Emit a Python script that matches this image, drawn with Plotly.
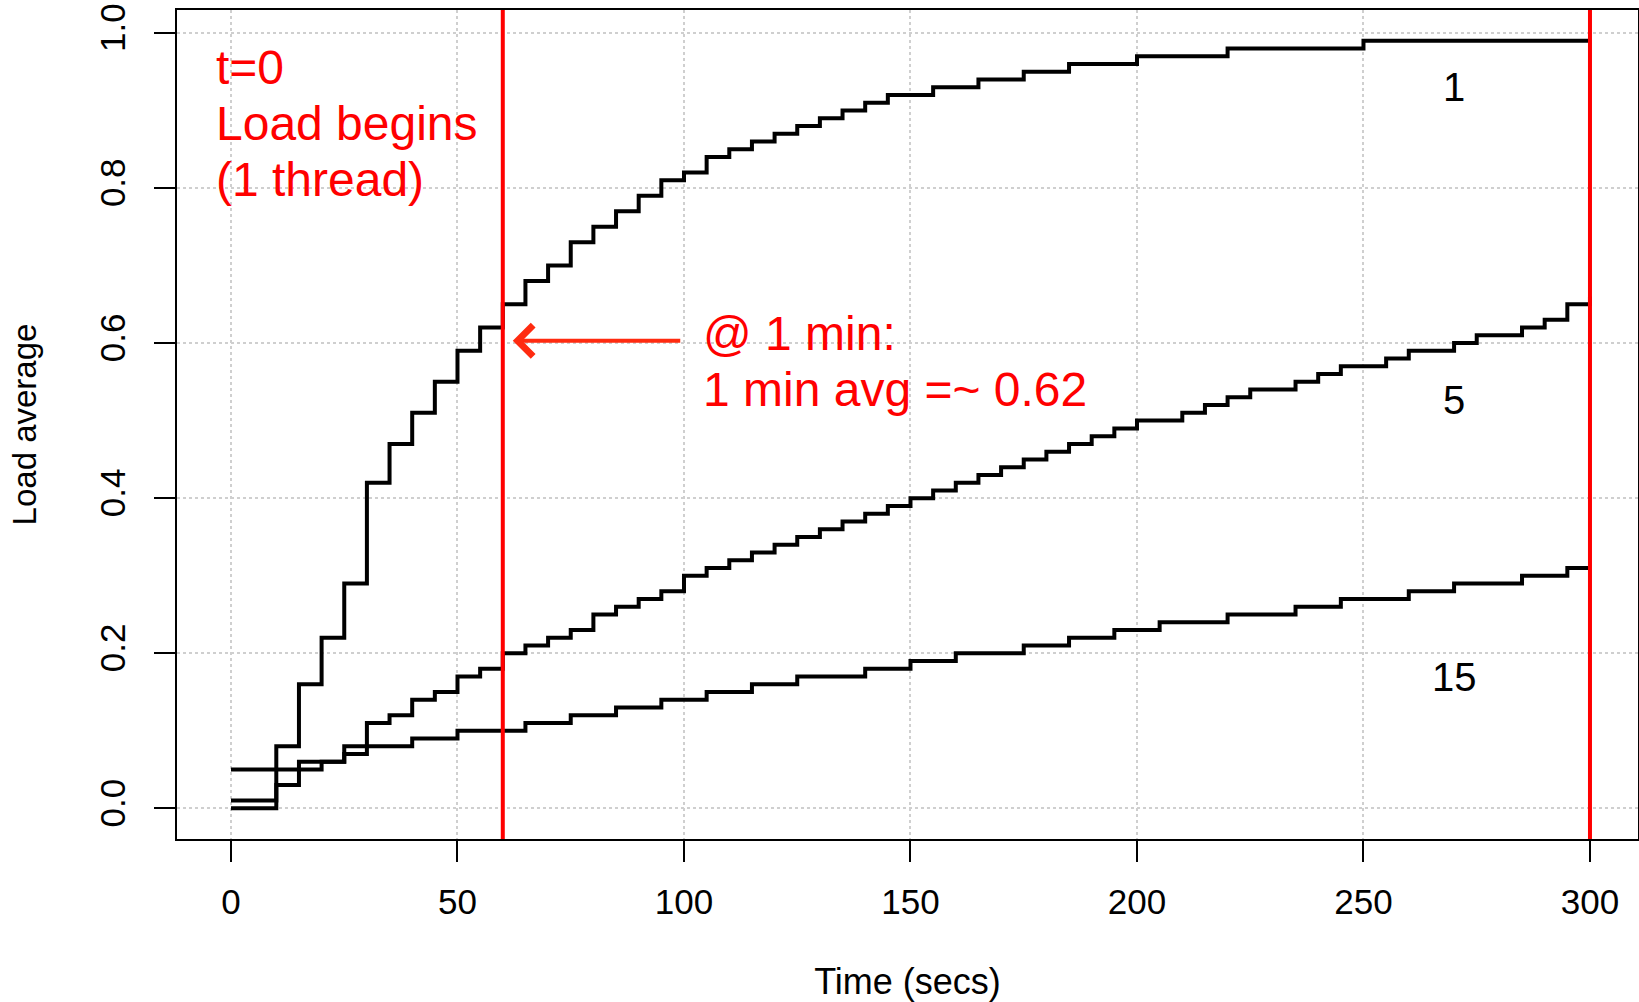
import plotly.graph_objects as go

# ---------------- data ----------------
time_s = list(range(0, 301, 5))

load_1 = [0.00, 0.00, 0.08, 0.16, 0.22, 0.29, 0.42, 0.47, 0.51, 0.55,
          0.59, 0.62, 0.65, 0.68, 0.70, 0.73, 0.75, 0.77, 0.79, 0.81,
          0.82, 0.84, 0.85, 0.86, 0.87, 0.88, 0.89, 0.90, 0.91, 0.92,
          0.92, 0.93, 0.93, 0.94, 0.94, 0.95, 0.95, 0.96, 0.96, 0.96,
          0.97, 0.97, 0.97, 0.97, 0.98, 0.98, 0.98, 0.98, 0.98, 0.98,
          0.99, 0.99, 0.99, 0.99, 0.99, 0.99, 0.99, 0.99, 0.99, 0.99, 0.99]

load_5 = [0.01, 0.01, 0.03, 0.06, 0.06, 0.08, 0.11, 0.12, 0.14, 0.15,
          0.17, 0.18, 0.20, 0.21, 0.22, 0.23, 0.25, 0.26, 0.27, 0.28,
          0.30, 0.31, 0.32, 0.33, 0.34, 0.35, 0.36, 0.37, 0.38, 0.39,
          0.40, 0.41, 0.42, 0.43, 0.44, 0.45, 0.46, 0.47, 0.48, 0.49,
          0.50, 0.50, 0.51, 0.52, 0.53, 0.54, 0.54, 0.55, 0.56, 0.57,
          0.57, 0.58, 0.59, 0.59, 0.60, 0.61, 0.61, 0.62, 0.63, 0.65, 0.66]

load_15 = [0.05, 0.05, 0.05, 0.05, 0.06, 0.07, 0.08, 0.08, 0.09, 0.09,
           0.10, 0.10, 0.10, 0.11, 0.11, 0.12, 0.12, 0.13, 0.13, 0.14,
           0.14, 0.15, 0.15, 0.16, 0.16, 0.17, 0.17, 0.17, 0.18, 0.18,
           0.19, 0.19, 0.20, 0.20, 0.20, 0.21, 0.21, 0.22, 0.22, 0.23,
           0.23, 0.24, 0.24, 0.24, 0.25, 0.25, 0.25, 0.26, 0.26, 0.27,
           0.27, 0.27, 0.28, 0.28, 0.29, 0.29, 0.29, 0.30, 0.30, 0.31, 0.31]

series_names = ["1", "5", "15"]
label_x = [270, 270, 270]
label_y = [0.93, 0.526, 0.169]

x_ticks = [0, 50, 100, 150, 200, 250, 300]
y_ticks = [0.0, 0.2, 0.4, 0.6, 0.8, 1.0]
marker_times = [60, 300]          # red vertical lines
arrow_tip = (62.2, 0.603)         # "@ 1 min" arrow target

# ---------------- layout constants ----------------
OFF = 0                       # body margin removed by post_script
W, H = 1639, 1002
ML, MR, MT, MB = 176.7, 1, 9.5, 162.6
FONT = "Liberation Sans, Arial, Helvetica, sans-serif"
RED = "#ff0000"


def px_x(px):   # page pixel -> paper fraction
    return (px - OFF - ML) / (W - ML - MR)


def px_y(py):
    return (H - MB - (py - OFF)) / (H - MT - MB)


fig = go.Figure()
for vals in (load_1, load_5, load_15):
    fig.add_trace(go.Scatter(
        x=time_s, y=vals, mode="lines", line_shape="hv",
        line=dict(color="black", width=4), showlegend=False,
        hoverinfo="x+y"))

for t in marker_times:
    fig.add_shape(type="line", x0=t, x1=t, xref="x", yref="paper",
                  y0=0, y1=1, line=dict(color=RED, width=4), layer="above")

annotations = []
for name, lx, ly in zip(series_names, label_x, label_y):
    annotations.append(dict(x=lx, y=ly, xref="x", yref="y", text=name,
                            showarrow=False, xanchor="center", yanchor="middle",
                            font=dict(family=FONT, size=40, color="black")))

red_lines = [("t=0", 67), ("Load begins", 123), ("(1 thread)", 179.5)]
for txt, py in red_lines:
    annotations.append(dict(x=px_x(214), y=px_y(py), xref="paper", yref="paper",
                            text=txt, showarrow=False, xanchor="left",
                            yanchor="middle",
                            font=dict(family=FONT, size=48, color=RED)))

red_lines2 = [("@ 1 min:", 333), ("1 min avg =~ 0.62", 389)]
for txt, py in red_lines2:
    annotations.append(dict(x=px_x(701), y=px_y(py), xref="paper", yref="paper",
                            text=txt, showarrow=False, xanchor="left",
                            yanchor="middle",
                            font=dict(family=FONT, size=48, color=RED)))

annotations.append(dict(x=arrow_tip[0], y=arrow_tip[1], xref="x", yref="y",
                        ax=169, ay=0, text="", showarrow=True,
                        arrowhead=4, arrowsize=1.5, arrowwidth=4,
                        arrowcolor="#ff2b10", standoff=0))

fig.update_layout(
    width=W, height=H, autosize=False,
    margin=dict(l=ML, r=MR, t=MT, b=MB, pad=0),
    paper_bgcolor="white", plot_bgcolor="white",
    font=dict(family=FONT, size=35, color="black"),
    annotations=annotations,
    showlegend=False,
)

fig.update_xaxes(
    range=[-11.92, 310.6], tickvals=x_ticks, ticktext=[str(v) for v in x_ticks],
    ticks="outside", ticklen=21, tickwidth=2, tickcolor="black",
    showline=True, linewidth=2, linecolor="black", mirror=True,
    showgrid=True, gridcolor="#cfcfcf", gridwidth=2, griddash="dot",
    zeroline=False, tickfont=dict(size=35), ticklabelstandoff=10,
    ticklabeloverflow="allow", automargin=False,
    title=dict(text="Time (secs)", font=dict(size=36), standoff=58),
)
fig.update_yaxes(
    range=[-0.0396, 1.0296], tickvals=y_ticks, tickformat=".1f",
    ticks="outside", ticklen=21, tickwidth=2, tickcolor="black",
    showline=True, linewidth=2, linecolor="black", mirror=True,
    showgrid=True, gridcolor="#cfcfcf", gridwidth=2, griddash="dot",
    zeroline=False, tickfont=dict(size=35), tickangle=-90, ticklabelstandoff=15,
    ticklabeloverflow="allow", automargin=False,
    title=dict(text="Load average", font=dict(size=33), standoff=46),
)

fig.write_html(
    "out.html",
    config={"displayModeBar": False},
    post_script="document.body.style.margin='0';document.body.style.overflow='hidden';",
)
